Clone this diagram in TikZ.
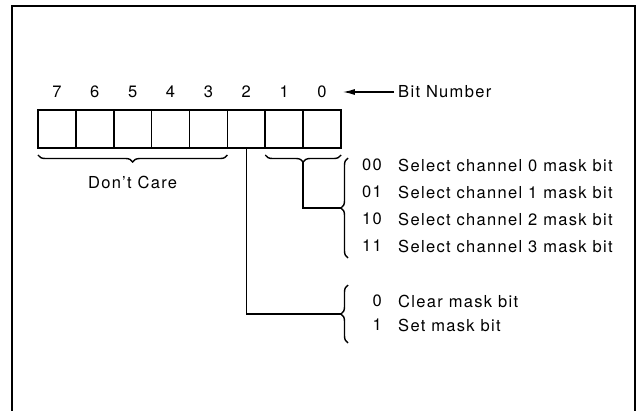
\documentclass[tikz,border=0pt]{standalone}
\usepackage{fontspec}
\setmainfont{TeX Gyre Heros}[LetterSpace=8]
\usetikzlibrary{decorations.pathreplacing,arrows.meta,calc}
\begin{document}
\begin{tikzpicture}[x=1pt,y=-1pt, font=\fontsize{16.5}{19}\selectfont,
 bitbox/.style={draw, line width=1.5pt, minimum width=37.9pt, minimum height=38pt, inner sep=0pt, outer sep=0pt},
 bitnum/.style={inner sep=0pt},
 code/.style={anchor=east, inner sep=0pt},
 desc/.style={anchor=west, inner sep=0pt},
 lead/.style={line width=1.3pt},
 curly/.style={decorate, decoration={brace, amplitude=7pt}, line width=1.4pt}]
\useasboundingbox (0,0) rectangle (637,410);
\draw[line width=2.2pt] (12,415) -- (12,6) -- (635,6) -- (635,415);
\foreach \i in {7,...,0} {
  \node[bitbox] (b\i) at ({38+37.875*(7-\i)+18.94},129) {};
  \node[bitnum] (n\i) at ({38+37.875*(7-\i)+18.94},92) {\i};
}
\node[desc] (bitlbl) at (398,92) {Bit Number};
\draw[lead, -{Latex[length=12pt,width=6pt]}, shorten >=16pt, shorten <=4pt] (bitlbl.west) -- (n0.east);
% Don't care brace
\draw[curly] ([yshift=-7pt]b3.south east) -- ([yshift=-7pt]b7.south west);
\coordinate (dcTip) at ($(b7.south west)!0.5!(b3.south east)+(0,14)$);
\node[inner sep=0pt] (dc) at ($(dcTip)+(0,20)$) {Don’t Care};
% channel select brace
\draw[curly] ([yshift=-7pt]b0.south east) -- ([yshift=-7pt]b1.south west);
\coordinate (selTip) at ($(b1.south west)!0.5!(b0.south east)+(0,14)$);
\coordinate (selBrTop) at (348,158);
\coordinate (selBrBot) at (348,258);
\coordinate (selBr) at (341,208);
\draw[curly] (selBrBot) -- (selBrTop);
\draw[lead] (selTip) |- (selBr);
\node[code] (c00) at (382,165) {00};
\node[code] (c01) at (382,192) {01};
\node[code] (c10) at (382,219) {10};
\node[code] (c11) at (382,246) {11};
\node[desc] (d00) at (398,165) {Select channel 0 mask bit};
\node[desc] (d01) at (398,192) {Select channel 1 mask bit};
\node[desc] (d10) at (398,219) {Select channel 2 mask bit};
\node[desc] (d11) at (398,246) {Select channel 3 mask bit};
% mask bit brace
\coordinate (mBrTop) at (348,285);
\coordinate (mBrBot) at (348,343);
\coordinate (mBr) at (341,314);
\draw[curly] (mBrBot) -- (mBrTop);
\draw[lead] (b2.south) |- (mBr);
\node[code] (c0) at (382,301) {0};
\node[code] (c1) at (382,325) {1};
\node[desc] (dclr) at (398,301) {Clear mask bit};
\node[desc] (dset) at (398,325) {Set mask bit};
\end{tikzpicture}
\end{document}
